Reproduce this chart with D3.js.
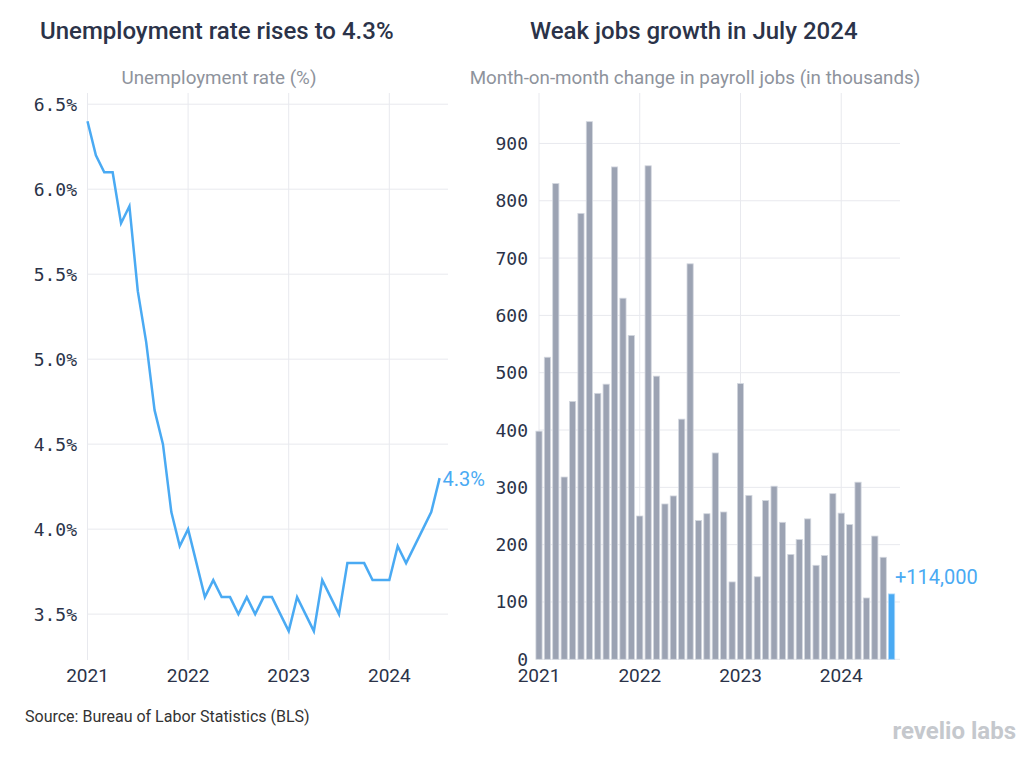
<!DOCTYPE html>
<html><head><meta charset="utf-8">
<script src="https://cdn.jsdelivr.net/npm/d3@7/dist/d3.min.js"></script>
<style>body{margin:0;background:#fff}svg{display:block}</style>
</head><body><svg id="c" width="1036" height="760"></svg>
<script>
const months = ["2021-01","2021-02","2021-03","2021-04","2021-05","2021-06","2021-07","2021-08","2021-09","2021-10","2021-11","2021-12",
"2022-01","2022-02","2022-03","2022-04","2022-05","2022-06","2022-07","2022-08","2022-09","2022-10","2022-11","2022-12",
"2023-01","2023-02","2023-03","2023-04","2023-05","2023-06","2023-07","2023-08","2023-09","2023-10","2023-11","2023-12",
"2024-01","2024-02","2024-03","2024-04","2024-05","2024-06","2024-07"];
const unemployment = [6.4,6.2,6.1,6.1,5.8,5.9,5.4,5.1,4.7,4.5,4.1,3.9,
4.0,3.8,3.6,3.7,3.6,3.6,3.5,3.6,3.5,3.6,3.6,3.5,
3.4,3.6,3.5,3.4,3.7,3.6,3.5,3.8,3.8,3.8,3.7,3.7,
3.7,3.9,3.8,3.9,4.0,4.1,4.3];
const payrolls = [398,527,830,318,450,778,938,464,480,859,630,565,
250,861,494,271,285,419,690,242,254,360,257,135,
481,286,144,277,302,239,183,209,245,164,181,289,
255,235,309,107,215,178,114];
const yearTicks = ["2021","2022","2023","2024"];
const rateTicks = [3.5,4.0,4.5,5.0,5.5,6.0,6.5];
const jobTicks = [0,100,200,300,400,500,600,700,800,900];

const svg = d3.select("#c");
const navy = "#2b3349", grid = "#e8e9ee", blue = "#4aaaf3", gray = "#9ca3b3", sub = "#8e939c";
const sans = "Roboto, 'Noto Sans', sans-serif", mono = "'DejaVu Sans Mono', monospace";
const yearIdx = yearTicks.map(y => months.indexOf(y + "-01"));

// Titles
svg.append("text").attr("x", 40).attr("y", 39).attr("font-family", sans).attr("font-size", 24).attr("font-weight", 500).attr("fill", navy).text("Unemployment rate rises to 4.3%");
svg.append("text").attr("x", 530).attr("y", 39).attr("font-family", sans).attr("font-size", 24).attr("font-weight", 500).attr("fill", navy).text("Weak jobs growth in July 2024");
svg.append("text").attr("x", 219).attr("y", 84).attr("text-anchor", "middle").attr("font-family", sans).attr("font-size", 18.8).attr("fill", sub).text("Unemployment rate (%)");
svg.append("text").attr("x", 695).attr("y", 84).attr("text-anchor", "middle").attr("font-family", sans).attr("font-size", 18.8).attr("fill", sub).text("Month-on-month change in payroll jobs (in thousands)");

// Left chart
const xL = d3.scaleLinear().domain([0, months.length]).range([87.5, 448]);
const yL = d3.scaleLinear().domain([3.23, 6.566]).range([660, 93]);
const gL = svg.append("g");
gL.selectAll(".vg").data(yearIdx).join("line").attr("x1", d => xL(d)).attr("x2", d => xL(d)).attr("y1", 93).attr("y2", 660).attr("stroke", grid);
gL.selectAll(".hg").data(rateTicks).join("line").attr("x1", xL(0)).attr("x2", 448).attr("y1", d => yL(d)).attr("y2", d => yL(d)).attr("stroke", grid);
gL.selectAll(".yl").data(rateTicks).join("text").attr("x", 77).attr("y", d => yL(d)).attr("dy", "0.36em").attr("text-anchor", "end")
  .attr("font-family", mono).attr("font-size", 18).attr("fill", navy).text(d => d3.format(".1f")(d) + "%");
gL.selectAll(".xl").data(yearIdx).join("text").attr("x", d => xL(d)).attr("y", 682).attr("text-anchor", "middle")
  .attr("font-family", sans).attr("font-size", 19).attr("fill", navy).text((d, i) => yearTicks[i]);
const line = d3.line().x((d, i) => xL(i)).y(d => yL(d));
gL.append("path").datum(unemployment).attr("d", line).attr("fill", "none").attr("stroke", blue).attr("stroke-width", 2.5).attr("stroke-linejoin", "miter");
const lastI = unemployment.length - 1;
gL.append("text").attr("x", xL(lastI) + 3).attr("y", yL(unemployment[lastI]) + 1).attr("dy", "0.36em").attr("font-family", sans).attr("font-size", 20).attr("fill", blue).text(d3.format(".1f")(unemployment[lastI]) + "%");

// Right chart
const xR = d3.scaleLinear().domain([0, months.length]).range([539, 900]);
const yR = d3.scaleLinear().domain([0, 988]).range([659.3, 93]);
const gR = svg.append("g");
gR.selectAll(".vg").data(yearIdx).join("line").attr("x1", d => xR(d)).attr("x2", d => xR(d)).attr("y1", 93).attr("y2", 659).attr("stroke", grid);
gR.selectAll(".hg").data(jobTicks).join("line").attr("x1", xR(0)).attr("x2", 900).attr("y1", d => yR(d)).attr("y2", d => yR(d)).attr("stroke", grid);
gR.selectAll(".bar").data(payrolls).join("rect")
  .attr("x", (d, i) => xR(i) - 3.1).attr("width", 6.2)
  .attr("y", d => yR(d)).attr("height", d => yR(0) - yR(d))
  .attr("fill", (d, i) => i === payrolls.length - 1 ? blue : gray)
  .attr("stroke", (d, i) => i === payrolls.length - 1 ? "#a9d6fa" : "#d3d7df").attr("stroke-width", 0.8);
gR.selectAll(".yl").data(jobTicks).join("text").attr("x", 528).attr("y", d => yR(d)).attr("dy", "0.36em").attr("text-anchor", "end")
  .attr("font-family", mono).attr("font-size", 18).attr("fill", navy).text(d => d);
gR.selectAll(".xl").data(yearIdx).join("text").attr("x", d => xR(d)).attr("y", 682).attr("text-anchor", "middle")
  .attr("font-family", sans).attr("font-size", 19).attr("fill", navy).text((d, i) => yearTicks[i]);
const lastB = payrolls.length - 1;
gR.append("text").attr("x", 895).attr("y", yR(payrolls[lastB]) - 17).attr("dy", "0.36em").attr("font-family", sans).attr("font-size", 20).attr("fill", blue).text("+" + d3.format(",")(payrolls[lastB] * 1000));

// Footer
svg.append("text").attr("x", 25).attr("y", 722).attr("font-family", sans).attr("font-size", 16).attr("fill", "#333").text("Source: Bureau of Labor Statistics (BLS)");
svg.append("text").attr("x", 1016).attr("y", 739).attr("text-anchor", "end").attr("font-family", sans).attr("font-size", 24).attr("font-weight", 700).attr("fill", "#c5c8cd").text("revelio labs");
</script></body></html>
